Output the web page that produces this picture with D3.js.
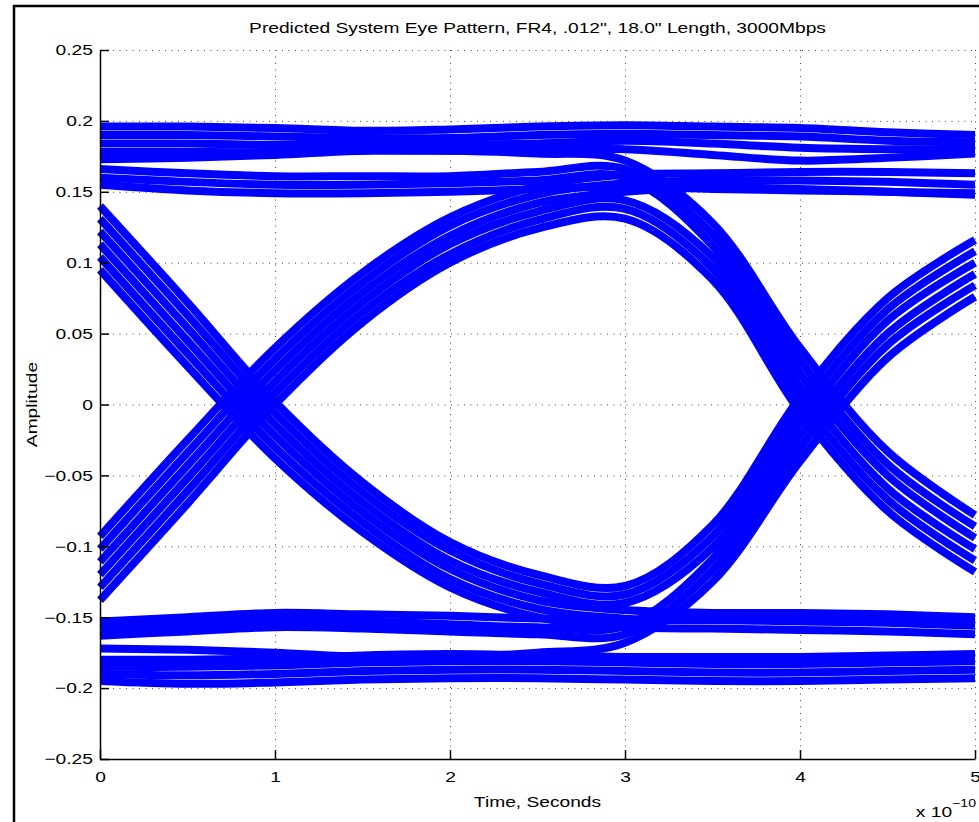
<!DOCTYPE html>
<html>
<head>
<meta charset="utf-8">
<script src="https://cdn.jsdelivr.net/npm/d3@7"></script>
<style>
  body { margin: 0; background: #fff; }
  text { font-family: "Liberation Sans", Arial, Helvetica, sans-serif; fill: #000; }
</style>
</head>
<body>
<svg id="chart" width="979" height="822"></svg>
<script>
// sample times, units of 1e-10 s
const T = [0, 0.5, 1, 1.5, 2, 2.5, 3, 3.5, 4, 4.5, 5];

// steady "1" level (upper band)
const topSteady = [
  [0.196, 0.196, 0.195, 0.193, 0.194, 0.196, 0.197, 0.196, 0.195, 0.192, 0.190],
  [0.190, 0.190, 0.189, 0.188, 0.188, 0.190, 0.191, 0.190, 0.189, 0.186, 0.185],
  [0.184, 0.184, 0.183, 0.183, 0.183, 0.184, 0.186, 0.184, 0.181, 0.180, 0.180],
  [0.178, 0.178, 0.178, 0.179, 0.179, 0.180, 0.180, 0.176, 0.172, 0.174, 0.177]
];
// "1" level traces that fall at the right crossing
const topFalling = [
  [0.173, 0.174, 0.176, 0.179, 0.179, 0.177, 0.172, 0.128, 0.040, -0.033, -0.078],
  [0.166, 0.163, 0.161, 0.161, 0.161, 0.164, 0.166, 0.120, 0.031, -0.042, -0.086],
  [0.160, 0.157, 0.155, 0.155, 0.156, 0.158, 0.160, 0.112, 0.022, -0.050, -0.094]
];
// lower part of the "1" level
const topLower = [
  [0.155, 0.151, 0.149, 0.149, 0.150, 0.152, 0.154, 0.152, 0.151, 0.150, 0.149]
];

// steady "0" level
const botSteady = [
  [-0.195, -0.197, -0.196, -0.194, -0.193, -0.193, -0.194, -0.195, -0.195, -0.194, -0.193],
  [-0.190, -0.191, -0.190, -0.188, -0.187, -0.187, -0.188, -0.189, -0.189, -0.188, -0.187],
  [-0.185, -0.185, -0.184, -0.182, -0.181, -0.181, -0.182, -0.183, -0.183, -0.182, -0.181],
  [-0.180, -0.180, -0.179, -0.177, -0.176, -0.177, -0.178, -0.178, -0.178, -0.177, -0.176]
];
// "0" level traces that rise at the right crossing
const botRising = [
  [-0.172, -0.173, -0.175, -0.178, -0.178, -0.175, -0.168, -0.125, -0.040, 0.033, 0.076],
  [-0.163, -0.160, -0.157, -0.158, -0.160, -0.162, -0.162, -0.117, -0.031, 0.042, 0.084],
  [-0.158, -0.155, -0.152, -0.153, -0.155, -0.157, -0.156, -0.109, -0.022, 0.050, 0.092]
];
const botUpper = [
  [-0.153, -0.150, -0.147, -0.148, -0.149, -0.151, -0.152, -0.152, -0.151, -0.152, -0.154]
];

// 0 -> 1 at the left crossing, then back to 0
const riseFall = [
  [-0.138, -0.070, 0.000, 0.058, 0.100, 0.124, 0.131, 0.088, -0.005, -0.075, -0.118],
  [-0.129, -0.061, 0.008, 0.065, 0.106, 0.130, 0.138, 0.096, 0.004, -0.067, -0.110],
  [-0.120, -0.052, 0.016, 0.072, 0.113, 0.136, 0.144, 0.104, 0.013, -0.059, -0.102]
];
// 0 -> 1 at the left crossing, stays high
const riseStay = [
  [-0.111, -0.043, 0.024, 0.079, 0.119, 0.142, 0.150, 0.153, 0.152, 0.150, 0.148],
  [-0.102, -0.034, 0.032, 0.086, 0.126, 0.148, 0.156, 0.158, 0.158, 0.157, 0.155],
  [-0.093, -0.025, 0.040, 0.093, 0.132, 0.154, 0.162, 0.163, 0.164, 0.164, 0.163]
];
// 1 -> 0 at the left crossing, then back to 1
const fallRise = [
  [0.140, 0.072, 0.002, -0.055, -0.097, -0.120, -0.128, -0.085, 0.005, 0.075, 0.116],
  [0.131, 0.063, -0.006, -0.062, -0.103, -0.126, -0.134, -0.093, -0.004, 0.067, 0.108],
  [0.122, 0.054, -0.014, -0.069, -0.110, -0.132, -0.140, -0.101, -0.013, 0.059, 0.100]
];
// 1 -> 0 at the left crossing, stays low
const fallStay = [
  [0.113, 0.045, -0.022, -0.076, -0.116, -0.138, -0.145, -0.147, -0.147, -0.148, -0.150],
  [0.104, 0.036, -0.030, -0.083, -0.123, -0.144, -0.151, -0.152, -0.153, -0.154, -0.156],
  [0.095, 0.027, -0.038, -0.090, -0.129, -0.150, -0.157, -0.158, -0.159, -0.160, -0.162]
];

const xTicks = [0, 1, 2, 3, 4, 5];
const xTickLabels = ['0', '1', '2', '3', '4', '5'];
const yTicks = [-0.25, -0.2, -0.15, -0.1, -0.05, 0, 0.05, 0.1, 0.15, 0.2, 0.25];
const yTickLabels = ['\u22120.25', '\u22120.2', '\u22120.15', '\u22120.1', '\u22120.05', '0',
  '0.05', '0.1', '0.15', '0.2', '0.25'];

const titleText = 'Predicted System Eye Pattern, FR4, .012", 18.0" Length, 3000Mbps';
const xLabelText = 'Time, Seconds';
const yLabelText = 'Amplitude';

// ---- layout
const margin = { top: 50, left: 100, right: 4, bottom: 63 };
const width = 979, height = 822;
const plotW = width - margin.left - margin.right;
const plotH = height - margin.top - margin.bottom;
const stretch = 1.28;   // matlab's wide helvetica

const svg = d3.select('#chart');

// outer figure frame
svg.append('rect')
  .attr('x', 14).attr('y', 6)
  .attr('width', 1000).attr('height', 900)
  .attr('fill', 'none').attr('stroke', '#000').attr('stroke-width', 2.5);

const g = svg.append('g')
  .attr('transform', 'translate(' + margin.left + ',' + margin.top + ')');

const x = d3.scaleLinear().domain([0, 5]).range([0, plotW]);
const y = d3.scaleLinear().domain([-0.25, 0.25]).range([plotH, 0]);

// dotted grid
const grid = g.append('g').attr('class', 'grid')
  .attr('stroke', '#444').attr('stroke-width', 1).attr('stroke-dasharray', '1,5.5');
grid.selectAll('line.v').data(xTicks).enter().append('line')
  .attr('x1', d => x(d) + 0.5).attr('x2', d => x(d) + 0.5)
  .attr('y1', 0).attr('y2', plotH);
grid.selectAll('line.h').data(yTicks).enter().append('line')
  .attr('y1', d => y(d) + 0.5).attr('y2', d => y(d) + 0.5)
  .attr('x1', 0).attr('x2', plotW);

// traces
const traces = [].concat(topSteady, topFalling, topLower, botSteady, botRising, botUpper,
  riseFall, riseStay, fallRise, fallStay);

const line = d3.line()
  .x((d, i) => x(T[i]))
  .y(d => y(d))
  .curve(d3.curveCatmullRom.alpha(0.5));

g.append('clipPath').attr('id', 'plotclip')
  .append('rect').attr('x', -3).attr('y', -3).attr('width', plotW + 6).attr('height', plotH + 6);

g.append('g').attr('class', 'data').attr('clip-path', 'url(#plotclip)')
  .selectAll('path')
  .data(traces)
  .enter().append('path')
  .attr('d', line)
  .attr('fill', 'none')
  .attr('stroke', '#0000ff')
  .attr('stroke-width', 8)
  .attr('stroke-linejoin', 'round');

// axes
const yAxis = d3.axisLeft(y)
  .tickValues(yTicks)
  .tickSize(-9).tickSizeOuter(0).tickPadding(5.5)
  .tickFormat(d => yTickLabels[yTicks.indexOf(d)]);
const xAxis = d3.axisBottom(x)
  .tickValues(xTicks)
  .tickSize(-9).tickSizeOuter(0).tickPadding(12)
  .tickFormat(d => xTickLabels[xTicks.indexOf(d)]);

const gy = g.append('g').call(yAxis);
const gx = g.append('g').attr('transform', 'translate(0,' + plotH + ')').call(xAxis);

[gx, gy].forEach(ax => {
  ax.select('.domain').attr('stroke', '#000').attr('stroke-width', 1.5);
  ax.selectAll('.tick line').attr('stroke', '#000').attr('stroke-width', 1.5);
  ax.selectAll('.tick text')
    .attr('font-size', 15)
    .attr('font-family', '"Liberation Sans", Arial, sans-serif')
    .attr('fill', '#000')
    .attr('transform', 'scale(' + stretch + ',1)');
});

// title and labels
svg.append('text')
  .attr('transform', 'translate(' + (margin.left + plotW / 2) + ',33) scale(' + stretch + ',1)')
  .attr('text-anchor', 'middle').attr('font-size', 15)
  .text(titleText);

svg.append('text')
  .attr('transform', 'translate(' + (margin.left + plotW / 2) + ',807) scale(' + stretch + ',1)')
  .attr('text-anchor', 'middle').attr('font-size', 15)
  .text(xLabelText);

svg.append('text')
  .attr('transform', 'translate(37,' + (margin.top + plotH / 2) + ') rotate(-90) scale(' + stretch + ',1)')
  .attr('text-anchor', 'middle').attr('font-size', 15)
  .text(yLabelText);

const expo = svg.append('text')
  .attr('transform', 'translate(976,817) scale(' + stretch + ',1)')
  .attr('text-anchor', 'end').attr('font-size', 15);
expo.append('tspan').text('x 10');
expo.append('tspan').attr('font-size', 11).attr('dy', -10).text('\u221210');
</script>
</body>
</html>
